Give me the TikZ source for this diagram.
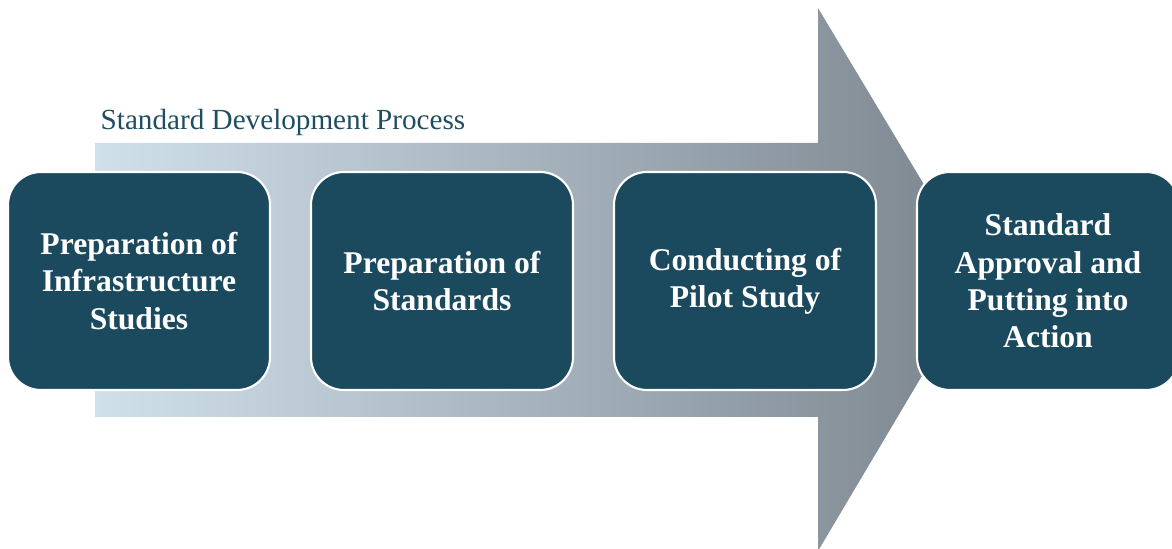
\documentclass[tikz,border=0pt]{standalone}
\usepackage{fontspec}
\setmainfont{Liberation Serif}
\usepackage{xcolor}
\usepackage{tikz}
\usetikzlibrary{positioning}
\definecolor{stagefill}{HTML}{1B4A5E}
\definecolor{titletext}{HTML}{1F4E60}
\definecolor{shaftleft}{HTML}{D0E0EB}
\definecolor{shaftright}{HTML}{7B858E}
\tikzstyle{stage} = [rectangle, rounded corners=0.33cm, minimum width=2.62cm, minimum height=2.18cm, inner sep=0pt, outer sep=0pt, align=center, draw=white, line width=0.6pt, fill=stagefill, text=white, font=\bfseries\fontsize{9}{10.6}\selectfont]
\tikzstyle{heading} = [anchor=base west, inner sep=0pt, text=titletext, font=\fontsize{8.3}{10}\selectfont]

\begin{document}
\begin{tikzpicture}
              \useasboundingbox (0,0) rectangle (11.72,5.49);
              \clip (0,0) rectangle (11.72,5.49);

              % big arrow behind the stages
              \shade[left color=shaftleft, right color=shaftright]
                  (0.95,4.06) -- (8.18,4.06) -- (8.18,5.41) -- (9.80,2.71)
                  -- (8.18,-0.02) -- (8.18,1.32) -- (0.95,1.32) -- cycle;

              \node[heading] (title) at (1.00,4.19) {Standard Development Process};

              \node[stage] (infra) at (1.39,2.68) {Preparation of\\Infrastructure\\Studies};
              \node[stage, right=0.41cm of infra] (standards) {Preparation of\\Standards};
              \node[stage, right=0.41cm of standards] (pilot) {Conducting of\\Pilot Study};
              \node[stage, right=0.41cm of pilot] (approval) {Standard\\Approval and\\Putting into\\Action};

          \end{tikzpicture}
\end{document}
